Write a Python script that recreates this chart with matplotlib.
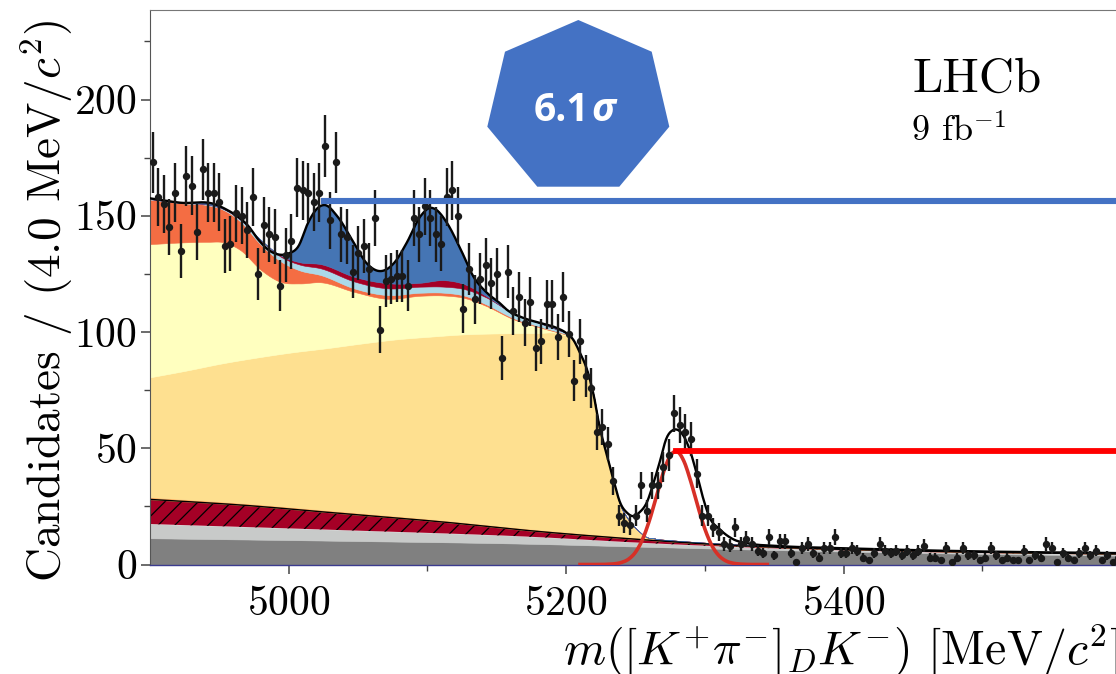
import numpy as np
import matplotlib
matplotlib.use("Agg")
import matplotlib.pyplot as plt
from matplotlib.patches import Polygon
from matplotlib.lines import Line2D
from matplotlib.ticker import MultipleLocator, FixedLocator

plt.rcParams.update({
    "font.family": "serif",
    "font.serif": ["cmr10"],
    "mathtext.fontset": "cm",
    "axes.unicode_minus": False,
    "axes.formatter.use_mathtext": True,
    "hatch.color": "black",
    "hatch.linewidth": 0.9,
})

# ---------------- data ----------------
bin_width = 4.0
x_start = 4900.0
counts = [173, 158, 155, 145, 160, 135, 167, 163, 143, 170,
          160, 160, 156, 137, 138, 151, 150, 144, 158, 125,
          146, 142, 141, 120, 133, 139, 162, 161, 160, 156,
          160, 180, 148, 173, 142, 141, 126, 134, 137, 127,
          149, 101, 122, 123, 124, 124, 120, 149, 142, 154,
          149, 142, 138, 158, 161, 150, 110, 127, 114, 123,
          129, 121, 125, 89, 126, 109, 115, 104, 113, 93,
          96, 112, 112, 98, 115, 99, 79, 96, 81, 76,
          57, 59, 52, 36, 21, 18, 17, 21, 34, 23,
          34, 34, 42, 47, 65, 60, 57, 54, 39, 21,
          21, 16, 14, 9, 8, 16, 9, 11, 9, 6,
          5, 12, 4, 10, 10, 5, 1, 7, 9, 5,
          3, 7, 7, 12, 5, 5, 7, 6, 3, 2,
          5, 9, 6, 5, 6, 4, 6, 4, 6, 8,
          3, 3, 2, 7, 1, 3, 7, 4, 4, 2,
          3, 7, 4, 2, 3, 2, 2, 6, 2, 4,
          3, 9, 7, 1, 5, 3, 2, 5, 7, 4,
          6, 2, 4, 1, 3]

x_major_ticks = [5000, 5200, 5400]
x_minor_ticks = [5100, 5300, 5500]

# cumulative component boundaries (knots)
gray_dark_x = [4900, 5037, 5182, 5252, 5352, 5452, 5600]
gray_dark_y = [11.3, 10.2, 8.8, 7.7, 6.2, 5.0, 3.8]
gray_light_x = [4900, 5037, 5182, 5252, 5352, 5452, 5600]
gray_light_y = [17.4, 14.8, 11.7, 9.4, 6.9, 5.4, 4.2]
hatch_x = [4900, 4965, 5037, 5109, 5182, 5252, 5302, 5352, 5452, 5600]
hatch_y = [28.0, 25.6, 22.0, 18.4, 14.1, 10.8, 8.8, 7.4, 5.8, 4.5]
thin_y = [29.0, 26.5, 22.9, 19.2, 14.9, 11.5, 9.3, 7.8, 6.1, 4.8]

wheat_x = [4900, 4927, 4952, 4977, 5002, 5027, 5052, 5077, 5102, 5127, 5152,
           5177, 5197, 5205, 5210, 5215, 5220, 5224, 5229, 5234, 5239, 5244,
           5248, 5253, 5258, 5264]
wheat_y = [80.5, 83.5, 86.5, 89.0, 91.2, 93.0, 95.0, 96.8, 98.0, 99.0, 99.4,
           99.5, 99.0, 96.5, 90.8, 83.7, 72.2, 59.3, 47.8, 36.3, 25.6, 20.1,
           17.0, 14.0, 11.8, 11.2]

upper_x = [4900, 4922, 4942, 4952, 4965, 4980, 4994, 5008, 5023, 5047, 5071,
           5095, 5112, 5127, 5142, 5162, 5182, 5202]
yellow_y = [137.8, 138.5, 138.8, 138.7, 135.3, 126.7, 121.6, 120.9, 121.4,
            117.3, 114.3, 115.6, 115.7, 114.6, 111.3, 105.5, 101.8, 98.6]
orange_y = [157.0, 155.4, 154.5, 152.8, 147.6, 137.5, 130.5, 126.5, 124.5,
            118.8, 115.9, 116.9, 116.9, 115.6, 112.0, 106.0, 102.2, 98.8]
lightblue_y = [157.2, 155.6, 154.8, 153.2, 148.4, 139.3, 132.5, 129.0, 127.4,
               121.8, 118.8, 119.5, 119.5, 118.4, 115.0, 108.0, 103.6, 99.3]
darkred_y = [157.2, 155.6, 154.8, 153.2, 148.5, 139.5, 133.0, 130.0, 129.2,
             123.8, 121.0, 121.2, 122.3, 120.5, 115.6, 108.0, 103.6, 99.3]

total_x = [4900, 4922, 4947, 4955, 4963, 4971, 4978, 4985, 4993, 5000,
           5007, 5014, 5021, 5026, 5035, 5047, 5056, 5066, 5076, 5085,
           5095, 5102, 5106, 5114, 5124, 5133, 5143, 5152, 5157, 5169,
           5181, 5193, 5200, 5205, 5210, 5215, 5220, 5224, 5229, 5234,
           5239, 5244, 5248, 5253, 5258, 5263, 5268, 5272, 5277, 5280,
           5284, 5289, 5294, 5299, 5303, 5311, 5320, 5332, 5352, 5400,
           5450, 5500, 5550, 5600]
total_y = [157.5, 155.6, 154.9, 152.7, 149.8, 145.5, 139.8, 135.5, 133.3, 133.8,
           136.9, 147.0, 153.4, 154.6, 149.8, 138.3, 129.7, 126.2, 129.7, 138.3,
           149.8, 153.4, 152.7, 147.0, 135.5, 124.0, 116.8, 112.5, 109.7, 106.1,
           103.9, 101.8, 99.6, 96.8, 91.0, 83.9, 72.4, 59.5, 48.0, 36.6,
           26.5, 22.2, 20.8, 22.5, 26.5, 35.1, 45.2, 53.8, 57.8, 58.0,
           55.9, 49.5, 39.4, 28.0, 20.8, 15.0, 11.0, 9.0, 8.0, 7.0,
           6.2, 5.6, 5.2, 4.9]
blue_end = 5202

signal_x = [5210, 5230, 5235, 5240, 5245, 5250, 5255, 5260, 5265, 5270, 5275,
            5280, 5285, 5290, 5295, 5300, 5305, 5310, 5315, 5320, 5325, 5330,
            5345]
signal_y = [0.0, 0.1, 0.3, 0.9, 2.3, 5.3, 10.7, 18.9, 29.1, 39.4, 46.7,
            48.6, 44.3, 35.4, 24.9, 15.3, 8.2, 3.9, 1.6, 0.6, 0.2, 0.05, 0.0]

# ---------------- figure ----------------
W, H = 1116, 674
fig = plt.figure(figsize=(W / 100, H / 100), dpi=100)


def fx(px):
    return px / W


def fy(py):
    return 1 - py / H


ax = fig.add_axes([fx(150), fy(564.5), (1121 - 150) / W, (564.5 - 10) / H])
xf = np.linspace(4900, 5600, 1401)


def smooth(kx, ky):
    kx = np.asarray(kx, float)
    ky = np.asarray(ky, float)
    m = np.gradient(ky, kx)
    i = np.clip(np.searchsorted(kx, xf, side="right") - 1, 0, len(kx) - 2)
    h = kx[i + 1] - kx[i]
    t = (xf - kx[i]) / h
    t2, t3 = t * t, t * t * t
    y = ((2 * t3 - 3 * t2 + 1) * ky[i] + (t3 - 2 * t2 + t) * h * m[i]
         + (-2 * t3 + 3 * t2) * ky[i + 1] + (t3 - t2) * h * m[i + 1])
    inside = (xf >= kx[0]) & (xf <= kx[-1])
    return y, inside


def layer(kx, ky, below):
    y, inside = smooth(kx, ky)
    return np.where(inside, np.maximum(y, below), below)


zero = np.zeros_like(xf)
b1 = layer(gray_dark_x, gray_dark_y, zero)
b2 = layer(gray_light_x, gray_light_y, b1)
b3 = layer(hatch_x, hatch_y, b2)
b4 = layer(hatch_x, thin_y, b3)
b5 = layer(wheat_x, wheat_y, b4)
b6 = layer(upper_x, yellow_y, b5)
b7 = layer(upper_x, orange_y, b6)
b8 = layer(upper_x, lightblue_y, b7)
b9 = layer(upper_x, darkred_y, b8)
tot, _ = smooth(total_x, total_y)
b10 = np.where(xf <= blue_end, np.maximum(tot, b9), b9)
sig, sig_in = smooth(signal_x, signal_y)
sig = np.maximum(sig, 0)


def band(lo, hi, c, z):
    ax.fill_between(xf, lo, hi, facecolor=c, edgecolor=c, lw=0.4, zorder=z)


band(zero, b1, "#808080", 1)
band(b1, b2, "#c8cac9", 1)
ax.fill_between(xf, b2, b3, facecolor="#a50026", edgecolor="black",
                hatch="//", lw=0, zorder=1)
band(b3, b4, "#fdae61", 1)
band(b4, b5, "#fee090", 1)
band(b5, b6, "#ffffbf", 1)
band(b6, b7, "#f46d43", 1)
band(b7, b8, "#abd9e9", 1)
band(b8, b9, "#a50026", 1)
band(b9, b10, "#4575b4", 1)
ax.plot(xf, b3, color="black", lw=1.0, zorder=2)
ax.plot(xf, tot, color="black", lw=1.7, zorder=3)
ax.plot(xf[sig_in], sig[sig_in], color="#d73027", lw=2.6, zorder=4)

xc = x_start + bin_width / 2 + bin_width * np.arange(len(counts))
cnt = np.asarray(counts, float)
ax.errorbar(xc, cnt, yerr=np.sqrt(cnt), fmt="o", color="#1a1a1a", ms=4.3,
            elinewidth=1.7, capsize=0, zorder=10)

ax.set_xlim(4900, 5600)
ax.set_ylim(0, 238.5)
ax.xaxis.set_major_locator(FixedLocator(x_major_ticks))
ax.xaxis.set_minor_locator(FixedLocator(x_minor_ticks))
ax.yaxis.set_major_locator(MultipleLocator(50))
ax.yaxis.set_minor_locator(MultipleLocator(25))
ax.tick_params(axis="both", which="major", direction="out", labelsize=30,
               length=6.5, width=1.1, color="#444444")
ax.tick_params(axis="both", which="minor", direction="out", length=4.5,
               width=1.0, color="#444444")
ax.tick_params(axis="y", which="major", pad=3)
ax.tick_params(axis="x", which="major", pad=9)
ax.spines["right"].set_visible(False)
ax.spines["left"].set_color("#555555")
ax.spines["top"].set_color("#777777")
ax.spines["top"].set_linewidth(0.8)
ax.spines["bottom"].set_color("#3b3b8f")
ax.spines["bottom"].set_linewidth(1.0)

# labels
fig.text(fx(47), fy(301), r"Candidates / (4.0 MeV/$c^2$)", rotation=90,
         ha="center", va="center", fontsize=34)
fig.text(fx(1119), fy(664), r"$m([K^{+}\pi^{-}]_{D}K^{-})$ [MeV$/c^2$]",
         ha="right", va="baseline", fontsize=34.5)
fig.text(fx(912), fy(92), "LHCb", ha="left", va="baseline", fontsize=35)
fig.text(fx(911), fy(142), r"9 fb$^{-1}$", ha="left", va="baseline", fontsize=26)

# annotations
hept = [(578.3, 20), (651.7, 51.7), (669.3, 126.7), (619.3, 186.7),
        (537.3, 186.7), (487.3, 126.7), (505, 51.7)]
fig.add_artist(Polygon([(fx(a), fy(b)) for a, b in hept], closed=True,
                       transform=fig.transFigure, facecolor="#4472c4",
                       edgecolor="none", zorder=20))
fig.text(fx(589), fy(121), "6.1", ha="right", va="baseline", color="white",
         fontsize=28, fontweight="bold", family="Open Sans", zorder=21)
fig.text(fx(591), fy(121), "σ", ha="left", va="baseline", color="white",
         fontsize=28, fontweight="bold", fontstyle="italic",
         family="Open Sans", zorder=21)
fig.add_artist(Line2D([fx(324), fx(1116)], [fy(200.5), fy(200.5)],
                      transform=fig.transFigure, color="#4472c4", lw=4.4,
                      zorder=20))
fig.add_artist(Line2D([fx(676), fx(1116)], [fy(451), fy(451)],
                      transform=fig.transFigure, color="#ff0000", lw=4.2,
                      zorder=20))

fig.savefig("out.png", dpi=100)
